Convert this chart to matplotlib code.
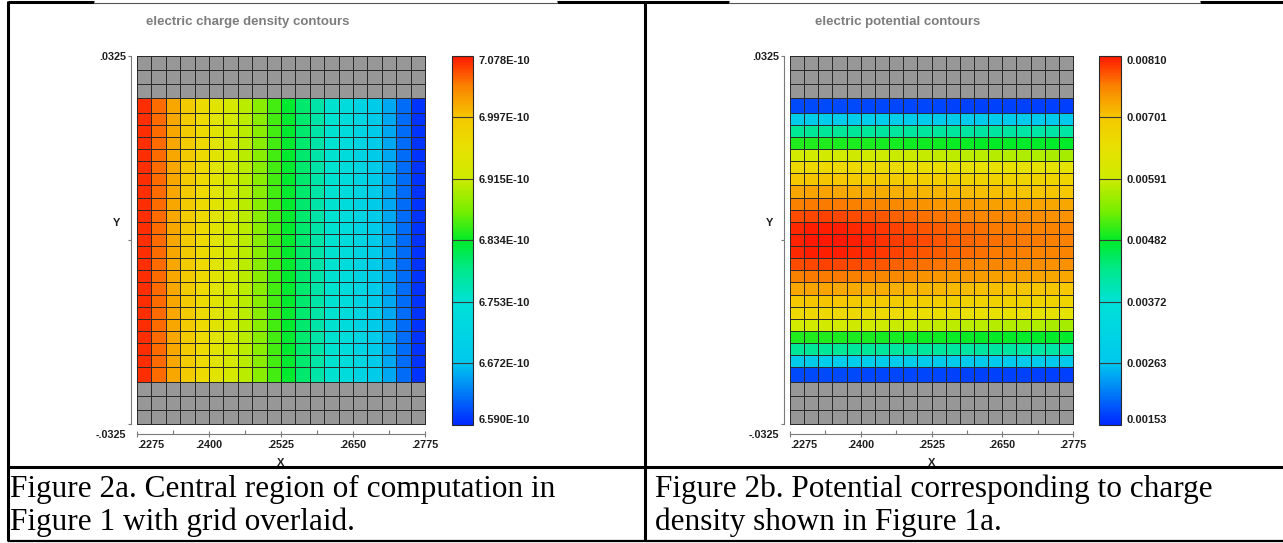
import numpy as np
import matplotlib
matplotlib.use("Agg")
import matplotlib.pyplot as plt
from matplotlib.colors import LinearSegmentedColormap, ListedColormap, Normalize
from matplotlib.cm import ScalarMappable
from matplotlib.lines import Line2D
from matplotlib.transforms import ScaledTranslation

# ---- mesh (metres) ----
X_EDGES = np.linspace(0.2275, 0.2775, 21)     # 20 columns
Y_CORE = np.linspace(-0.0225, 0.0225, 22)     # 21 inner rows
Y_EDGE_ROW = 0.02515                          # outer edge of the coloured region
Y_LIMIT = 0.0325
GRAY_ROWS = 3

X_MAJOR = [0.2275, 0.2400, 0.2525, 0.2650, 0.2775]
X_MINOR = [0.23375, 0.24625, 0.25875, 0.27125]
X_LABELS = [".2275", ".2400", ".2525", ".2650", ".2775"]
Y_TICKS = [-0.0325, 0.0, 0.0325]
Y_LABELS = ["-.0325", "", ".0325"]

# ---- charge density, one value per column (left -> right), units 1e-10 ----
CHARGE_COLS = [7.070, 7.046, 7.016, 6.990, 6.966, 6.946, 6.926, 6.905, 6.881, 6.856,
               6.831, 6.806, 6.780, 6.756, 6.735, 6.711, 6.686, 6.655, 6.625, 6.596]
CHARGE_LEVELS = [6.590e-10, 6.672e-10, 6.753e-10, 6.834e-10, 6.915e-10, 6.997e-10, 7.078e-10]

# ---- potential, rows top -> bottom, columns left -> right, units 1e-5 V ----
POTENTIAL_ROWS = [
    [178, 178, 178, 177, 177, 176, 176, 175, 175, 174, 174, 173, 173, 172, 172, 171, 171, 170, 170, 170],
    [282, 282, 281, 281, 280, 280, 279, 279, 278, 278, 277, 277, 276, 276, 275, 275, 274, 274, 273, 273],
    [420, 420, 419, 419, 418, 418, 417, 417, 416, 416, 415, 415, 414, 414, 413, 413, 412, 412, 411, 411],
    [496, 495, 495, 494, 493, 492, 491, 490, 489, 488, 487, 486, 485, 484, 483, 482, 481, 480, 480, 479],
    [600, 600, 599, 597, 595, 593, 591, 589, 587, 585, 583, 581, 579, 577, 575, 573, 571, 569, 567, 565],
    [665, 666, 666, 665, 664, 662, 660, 658, 656, 654, 652, 650, 648, 647, 646, 645, 644, 643, 642, 641],
    [698, 700, 700, 699, 697, 695, 693, 691, 689, 687, 685, 683, 681, 679, 677, 676, 675, 674, 673, 672],
    [726, 728, 728, 727, 725, 723, 721, 719, 717, 715, 713, 711, 709, 707, 705, 703, 702, 701, 700, 699],
    [757, 760, 761, 760, 758, 755, 752, 749, 746, 743, 740, 738, 736, 734, 732, 730, 729, 728, 727, 726],
    [782, 786, 787, 786, 784, 781, 777, 773, 769, 765, 762, 759, 756, 753, 751, 749, 747, 746, 745, 744],
    [800, 805, 806, 805, 802, 798, 794, 789, 784, 779, 775, 771, 767, 764, 761, 759, 757, 756, 755, 754],
    [804, 809, 810, 809, 806, 802, 797, 792, 787, 782, 778, 774, 770, 767, 764, 762, 760, 759, 758, 757],
    [800, 805, 806, 805, 802, 798, 794, 789, 784, 779, 775, 771, 767, 764, 761, 759, 757, 756, 755, 754],
    [782, 786, 787, 786, 784, 781, 777, 773, 769, 765, 762, 759, 756, 753, 751, 749, 747, 746, 745, 744],
    [757, 760, 761, 760, 758, 755, 752, 749, 746, 743, 740, 738, 736, 734, 732, 730, 729, 728, 727, 726],
    [726, 728, 728, 727, 725, 723, 721, 719, 717, 715, 713, 711, 709, 707, 705, 703, 702, 701, 700, 699],
    [698, 700, 700, 699, 697, 695, 693, 691, 689, 687, 685, 683, 681, 679, 677, 676, 675, 674, 673, 672],
    [665, 666, 666, 665, 664, 662, 660, 658, 656, 654, 652, 650, 648, 647, 646, 645, 644, 643, 642, 641],
    [600, 600, 599, 597, 595, 593, 591, 589, 587, 585, 583, 581, 579, 577, 575, 573, 571, 569, 567, 565],
    [496, 495, 495, 494, 493, 492, 491, 490, 489, 488, 487, 486, 485, 484, 483, 482, 481, 480, 480, 479],
    [420, 420, 419, 419, 418, 418, 417, 417, 416, 416, 415, 415, 414, 414, 413, 413, 412, 412, 411, 411],
    [282, 282, 281, 281, 280, 280, 279, 279, 278, 278, 277, 277, 276, 276, 275, 275, 274, 274, 273, 273],
    [178, 178, 178, 177, 177, 176, 176, 175, 175, 174, 174, 173, 173, 172, 172, 171, 171, 170, 170, 170],
]
POTENTIAL_LEVELS = [0.00153, 0.00263, 0.00372, 0.00482, 0.00591, 0.00701, 0.00810]

TITLES = ["electric charge density contours", "electric potential contours"]
CAPTION_A = ["Figure 2a. Central region of computation in", "Figure 1 with grid overlaid."]
CAPTION_B = ["Figure 2b. Potential corresponding to charge", "density shown in Figure 1a."]

# tecplot-like rainbow
CMAP = LinearSegmentedColormap.from_list("tec", [
    (0.000, "#0028ff"), (0.167, "#00c8ee"), (0.333, "#00e1d7"), (0.420, "#00e88c"),
    (0.500, "#00eb28"), (0.580, "#78ee00"), (0.667, "#cdeb00"), (0.750, "#e8e100"),
    (0.833, "#f5c800"), (0.920, "#fa8200"), (1.000, "#ff1900"),
])
GRAY = "#979797"
EDGE = "#2a2a2a"
SPINE = "#7a7a7a"
INK = "#1e1e1e"
SANS = "Liberation Sans"
SERIF = "Liberation Serif"
MESH_LW = 0.7

W, H = 1283, 543
fig = plt.figure(figsize=(W / 100, H / 100), dpi=100)


def px_axes(x0, y0, x1, y1):
    return fig.add_axes([x0 / W, 1 - y1 / H, (x1 - x0) / W, (y1 - y0) / H])


def fig_line(xs, ys, lw, color="black"):
    fig.add_artist(Line2D([x / W for x in xs], [1 - y / H for y in ys],
                          transform=fig.transFigure, lw=lw, color=color,
                          solid_capstyle="butt"))


def draw_panel(grid_box, cbar_box, title_x, title, z, levels, fmt):
    x0, y0, x1, y1 = grid_box
    ax = px_axes(*grid_box)

    # gray wall rows above and below
    y_top = np.linspace(Y_EDGE_ROW, Y_LIMIT, GRAY_ROWS + 1)
    y_bot = -y_top[::-1]
    ncol = len(X_EDGES) - 1
    for ye in (y_bot, y_top):
        ax.pcolormesh(X_EDGES, ye, np.zeros((GRAY_ROWS, ncol)), cmap=ListedColormap([GRAY]),
                      edgecolors=EDGE, linewidth=MESH_LW, clip_on=False)

    norm = Normalize(levels[0], levels[-1])
    y_inner = np.concatenate([[-Y_EDGE_ROW], Y_CORE, [Y_EDGE_ROW]])
    ax.pcolormesh(X_EDGES, y_inner, z, cmap=CMAP, norm=norm,
                  edgecolors=EDGE, linewidth=MESH_LW, clip_on=False)

    ax.set_xlim(X_EDGES[0], X_EDGES[-1])
    ax.set_ylim(-Y_LIMIT, Y_LIMIT)
    for side in ("top", "right"):
        ax.spines[side].set_visible(False)
    ax.spines["left"].set_position(("outward", 4.5))
    ax.spines["bottom"].set_position(("outward", 7.2))
    for side in ("left", "bottom"):
        ax.spines[side].set_color(SPINE)
        ax.spines[side].set_linewidth(0.8)

    ax.set_xticks(X_MAJOR)
    ax.set_xticks(X_MINOR, minor=True)
    ax.set_xticklabels(X_LABELS)
    ax.set_yticks(Y_TICKS)
    ax.set_yticklabels(Y_LABELS)
    ax.tick_params(axis="x", which="major", direction="inout", length=5, width=0.8,
                   color=SPINE, pad=1.5, labelsize=7.8, labelcolor=INK)
    ax.tick_params(axis="x", which="minor", direction="in", length=3, width=0.8, color=SPINE)
    ax.tick_params(axis="y", direction="out", length=2.5, width=0.8, color=SPINE,
                   pad=0.8, labelsize=7.8, labelcolor=INK)
    for lab in ax.get_xticklabels() + ax.get_yticklabels():
        lab.set_fontfamily(SANS)
        lab.set_fontweight("bold")

    # tecplot nudges the corner labels
    ax.xaxis.get_major_ticks()[0].label1.set_horizontalalignment("left")
    low = ax.yaxis.get_major_ticks()[0].label1
    low.set_verticalalignment("top")
    low.set_transform(low.get_transform() + ScaledTranslation(0, -0.06, fig.dpi_scale_trans))

    ax.set_xlabel("X", fontsize=8, fontweight="bold", family=SANS, color=INK)
    ax.set_ylabel("Y", fontsize=8, fontweight="bold", family=SANS, color=INK, rotation=0)
    ax.xaxis.set_label_coords(0.5, (y1 - 458) / (y1 - y0))
    ax.yaxis.set_label_coords(-20 / (x1 - x0), (y1 - 228) / (y1 - y0))

    # colour bar with contour level lines
    cax = px_axes(*cbar_box)
    cb = fig.colorbar(ScalarMappable(norm=norm, cmap=CMAP), cax=cax, ticks=levels)
    cb.outline.set_edgecolor(EDGE)
    cb.outline.set_linewidth(0.8)
    for lv in levels[1:-1]:
        cax.axhline(lv, color="#3a3a3a", lw=0.8)
    cax.tick_params(length=0, pad=4, labelsize=8, labelcolor=INK)
    cax.set_yticklabels([fmt % lv for lv in levels])
    labs = cax.get_yticklabels()
    for lab in labs:
        lab.set_fontfamily(SANS)
        lab.set_fontweight("bold")
    labs[0].set_verticalalignment("bottom")
    labs[-1].set_verticalalignment("top")

    fig.text(title_x / W, 1 - 22 / H, title, ha="center", va="center",
             fontsize=9.5, fontweight="bold", family=SANS, color="#7d7d7d")
    return ax


charge = np.tile(np.array(CHARGE_COLS) * 1e-10, (len(Y_CORE) + 1, 1))
potential = np.flipud(np.array(POTENTIAL_ROWS, dtype=float)) * 1e-5

draw_panel((137, 56, 425, 424), (452, 56, 473, 425), 248, TITLES[0],
           charge, CHARGE_LEVELS, "%.3E")
draw_panel((790, 56, 1073, 424), (1099, 56, 1121, 425), 898, TITLES[1],
           potential, POTENTIAL_LEVELS, "%.5f")

# ---- table frame ----
fig_line([8, 8], [1, 541], 2.2)
fig_line([645, 645], [1, 541], 2.2)
fig_line([8, 1283], [467, 467], 2.2)
fig_line([8, 1283], [541, 541], 1.6)
for a, b in [(8, 94), (557, 729), (1200, 1283)]:
    fig_line([a, b], [2, 2], 2.2)
for a, b in [(94, 557), (729, 1200)]:
    fig_line([a, b], [3, 3], 0.8, "#555555")

# ---- captions ----
for x0, lines in [(10, CAPTION_A), (655, CAPTION_B)]:
    for k, line in enumerate(lines):
        fig.text(x0 / W, 1 - (497 + 33 * k) / H, line, ha="left", va="baseline",
                 fontsize=22.5, family=SERIF, color="black")

fig.savefig("out.png", dpi=100)
